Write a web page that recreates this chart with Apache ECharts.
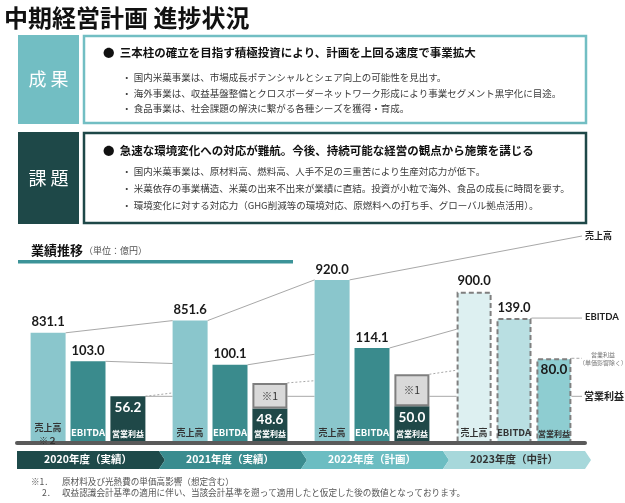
<!DOCTYPE html>
<html>
<head>
<meta charset="utf-8">
<script src="https://cdn.jsdelivr.net/npm/echarts@6/dist/echarts.min.js"></script>
<style>
  html, body { margin: 0; padding: 0; background: #fff; }
  #main { width: 625px; height: 503px; }
</style>
</head>
<body>
<div id="main"></div>
<script>
// 業績推移 (単位：億円)
const years = ['2020年度（実績）', '2021年度（実績）', '2022年度（計画）', '2023年度（中計）'];
const sales = [831.1, 851.6, 920.0, 900.0];
const ebitda = [103.0, 100.1, 114.1, 139.0];
const opIncome = [56.2, 48.6, 50.0, 80.0];
// ※1 boxes carry no figure in the source, size
const priceImpact = [null, 16, 20, null];
const salesNames = ['売上高\n※２', '売上高', '売上高', '売上高'];
const ebitdaNames = ['EBITDA', 'EBITDA', 'EBITDA', 'EBITDA'];
const opNames = ['営業利益', '営業利益', '営業利益', '営業利益'];
const planFlags = [false, false, false, true];

const CJK = '"Noto Sans CJK JP", sans-serif';
const NUM = 'Lato, "Noto Sans", sans-serif';

// each measure has its own (cut) scale like the original slide
const salesAxis = { min: 646, max: 987 };
const ebitdaAxis = { min: 35, max: 204 };
const opAxis = { min: 27, max: 154 };

const chart = echarts.init(document.getElementById('main'));

function barItems(values, plain, plan, planLabel) {
  return values.map(function (v, i) {
    if (!planFlags[i]) return { value: v, itemStyle: { color: plain } };
    const item = { value: v, itemStyle: { color: plan, borderColor: '#7f7f7f', borderWidth: 2, borderType: [5, 3] } };
    if (planLabel) item.label = planLabel;
    return item;
  });
}

function nameMarks(names, axisMin, colors, size) {
  return {
    symbol: 'rect',
    symbolSize: 1,
    silent: true,
    itemStyle: { color: 'rgba(0,0,0,0)' },
    label: {
      show: true, position: 'top', distance: 3,
      fontFamily: CJK, fontWeight: 'bold', fontSize: size, lineHeight: size + 4
    },
    data: names.map(function (n, i) {
      const lab = { formatter: n, color: colors[i] };
      if (n.indexOf('\n') >= 0) lab.offset = [0, 8];
      return { coord: [years[i], axisMin], label: lab };
    })
  };
}

const valueLabel = {
  show: true, position: 'top', distance: 4,
  fontFamily: NUM, fontWeight: 'bold', fontSize: 13, color: '#1a1a1a',
  formatter: function (p) { return p.value.toFixed(1); }
};

function txt(id, x, y, text, size, opts) {
  opts = opts || {};
  return {
    type: 'text', id: id, x: x, y: y, silent: true, z: 3,
    style: {
      text: text, fontSize: size, fontFamily: opts.family || CJK,
      fontWeight: opts.weight || 'normal', fill: opts.color || '#333',
      align: opts.align || 'left', verticalAlign: 'middle'
    }
  };
}

// slide frame: title, 成果 / 課題 boxes, section header, notes
const staticGraphics = [
  txt('title', 4, 18, '中期経営計画 進捗状況', 24, { weight: 'bold', color: '#111' }),

  { type: 'rect', id: 'seikaTag', shape: { x: 18, y: 35, width: 61, height: 89 }, style: { fill: '#72BEC3' } },
  txt('seikaTagT', 48.5, 79.5, '成 果', 18, { color: '#fff', align: 'center' }),
  { type: 'rect', id: 'seikaBox', shape: { x: 84, y: 36, width: 502, height: 87 }, style: { fill: 'none', stroke: '#72BEC3', lineWidth: 2.5 } },
  txt('seikaH', 103, 53, '●  三本柱の確立を目指す積極投資により、計画を上回る速度で事業拡大', 11.5, { weight: 'bold', color: '#111' }),
  txt('seika1', 122, 77, '・ 国内米菓事業は、市場成長ポテンシャルとシェア向上の可能性を見出す。', 9.5, { color: '#3a3a3a' }),
  txt('seika2', 122, 93, '・ 海外事業は、収益基盤整備とクロスボーダーネットワーク形成により事業セグメント黒字化に目途。', 9.5, { color: '#3a3a3a' }),
  txt('seika3', 122, 108, '・ 食品事業は、社会課題の解決に繋がる各種シーズを獲得・育成。', 9.5, { color: '#3a3a3a' }),

  { type: 'rect', id: 'kadaiTag', shape: { x: 18, y: 132, width: 61, height: 92 }, style: { fill: '#1E4848' } },
  txt('kadaiTagT', 48.5, 178, '課 題', 18, { color: '#fff', align: 'center' }),
  { type: 'rect', id: 'kadaiBox', shape: { x: 84, y: 133, width: 502, height: 90 }, style: { fill: 'none', stroke: '#1E4848', lineWidth: 2.5 } },
  txt('kadaiH', 103, 151, '●  急速な環境変化への対応が難航。今後、持続可能な経営の観点から施策を講じる', 11.5, { weight: 'bold', color: '#111' }),
  txt('kadai1', 122, 171, '・ 国内米菓事業は、原材料高、燃料高、人手不足の三重苦により生産対応力が低下。', 9.5, { color: '#3a3a3a' }),
  txt('kadai2', 122, 188, '・ 米菓依存の事業構造、米菓の出来不出来が業績に直結。投資が小粒で海外、食品の成長に時間を要す。', 9.5, { color: '#3a3a3a' }),
  txt('kadai3', 122, 205, '・ 環境変化に対する対応力（GHG削減等の環境対応、原燃料への打ち手、グローバル拠点活用）。', 9.5, { color: '#3a3a3a' }),

  txt('secT', 31, 250, '業績推移', 13, { weight: 'bold', color: '#111' }),
  txt('secU', 84, 251, '（単位：億円）', 9, { color: '#555' }),
  { type: 'rect', id: 'secLine', shape: { x: 18, y: 260, width: 275, height: 3.5 }, style: { fill: '#3C9398' } },

  txt('note1a', 31, 482, '※1．', 8.6, { color: '#555' }),
  txt('note1b', 62, 482, '原材料及び光熱費の単価高影響（想定含む）', 8.6, { color: '#555' }),
  txt('note2a', 42, 493, '2．', 8.6, { color: '#555' }),
  txt('note2b', 62, 493, '収益認識会計基準の適用に伴い、当該会計基準を遡って適用したと仮定した後の数値となっております。', 8.6, { color: '#555' })
];

const yearColors = ['#ffffff', '#ffffff', '#ffffff', '#333333'];

const option = {
  animation: false,
  backgroundColor: '#fff',
  grid: { left: 17, right: 40, top: 240, bottom: 60 },
  xAxis: {
    type: 'category',
    data: years,
    z: 5,
    axisLine: { onZero: false, lineStyle: { color: '#5a5a5a', width: 4 } },
    axisTick: { show: false },
    axisLabel: {
      margin: 11, fontFamily: CJK, fontWeight: 'bold', fontSize: 10.5,
      color: function (v, i) { return yearColors[i]; }
    }
  },
  yAxis: [
    { type: 'value', show: false, min: salesAxis.min, max: salesAxis.max, splitLine: { show: false } },
    { type: 'value', show: false, min: ebitdaAxis.min, max: ebitdaAxis.max, splitLine: { show: false } },
    { type: 'value', show: false, min: opAxis.min, max: opAxis.max, splitLine: { show: false } }
  ],
  graphic: { elements: staticGraphics },
  series: [
    {
      name: '売上高', type: 'bar', yAxisIndex: 0, barWidth: 35, barGap: '14%',
      data: barItems(sales, '#8AC6CC', '#DDF0F1'),
      label: valueLabel,
      markPoint: nameMarks(salesNames, salesAxis.min, ['#333', '#333', '#333', '#333'], 9)
    },
    {
      name: 'EBITDA', type: 'bar', yAxisIndex: 1, barWidth: 35, barGap: '14%',
      data: barItems(ebitda, '#3A8B8D', '#B9DFE2'),
      label: valueLabel,
      markPoint: nameMarks(ebitdaNames, ebitdaAxis.min, ['#fff', '#fff', '#fff', '#333'], 9.5)
    },
    {
      name: '営業利益', type: 'bar', yAxisIndex: 2, stack: 'op', barWidth: 35, barGap: '14%',
      data: barItems(opIncome, '#1F4848', '#8ECDD1', { color: '#1a1a1a' }),
      label: {
        show: true, position: 'insideTop', distance: 4,
        fontFamily: NUM, fontWeight: 'bold', fontSize: 13.5, color: '#fff',
        formatter: function (p) { return p.value.toFixed(1); }
      },
      markPoint: nameMarks(opNames, opAxis.min, ['#fff', '#fff', '#fff', '#333'], 8)
    },
    {
      name: '※1', type: 'bar', yAxisIndex: 2, stack: 'op', barWidth: 35, barGap: '14%',
      data: priceImpact,
      itemStyle: { color: '#D9D9D9', borderColor: '#7f7f7f', borderWidth: 2 },
      label: { show: true, position: 'inside', formatter: '※1', fontFamily: CJK, fontSize: 10.5, color: '#333' }
    }
  ]
};

chart.setOption(option);

// connectors and right-hand captions, placed from the laid-out bars
function barBox(seriesIndex, i) {
  const l = chart.getModel().getSeriesByIndex(seriesIndex).getData().getItemLayout(i);
  if (!l || isNaN(l.height)) return null;
  return { left: l.x, right: l.x + l.width, top: Math.min(l.y, l.y + l.height) };
}

const extra = [];
const edgeX = 582;
function seg(id, a, b, dash) {
  extra.push({
    type: 'line', id: id, z: 1, silent: true,
    shape: { x1: a[0], y1: a[1], x2: b[0], y2: b[1] },
    style: { stroke: '#a8a8a8', lineWidth: 1, lineDash: dash || null }
  });
}
function towards(a, b, x) {
  return [x, a[1] + (b[1] - a[1]) * (x - a[0]) / (b[0] - a[0])];
}

const S = years.map(function (_, i) { return barBox(0, i); });
const E = years.map(function (_, i) { return barBox(1, i); });
const O = years.map(function (_, i) { return barBox(2, i); });
const P = years.map(function (_, i) { return barBox(3, i); });
const opTop = O.map(function (o, i) { return P[i] ? P[i].top : o.top; });

// 売上高
for (let i = 0; i < 2; i++) seg('s' + i, [S[i].right, S[i].top], [S[i + 1].left, S[i + 1].top]);
const salesCap = 236;
seg('s2', [S[2].right, S[2].top], [edgeX, salesCap]);
// EBITDA
for (let i = 0; i < 3; i++) {
  const a = [E[i].right, E[i].top], b = [E[i + 1].left, E[i + 1].top];
  seg('e' + i, a, towards(a, b, S[i + 1].left));
}
seg('e3', [E[3].right, E[3].top], [edgeX, E[3].top]);
// 営業利益 (solid, flat) and excluding unit price impact (dotted)
for (let i = 0; i < 3; i++) {
  seg('o' + i, [O[i].right, O[0].top], [S[i + 1].left, O[0].top]);
  const a = [O[i].right, opTop[i]], b = [O[i + 1].left, opTop[i + 1]];
  seg('d' + i, a, towards(a, b, S[i + 1].left), [2, 2]);
}
seg('o3', [O[3].right, O[0].top], [edgeX, O[0].top]);
seg('d3', [O[3].right, opTop[3]], [edgeX, opTop[3]], [3, 2]);

extra.push(txt('capS', 585, salesCap, '売上高', 9, { weight: 'bold', color: '#222' }));
extra.push(txt('capE', 585, E[3].top - 1, 'EBITDA', 9.5, { weight: 'bold', color: '#222', family: NUM }));
extra.push(txt('capD1', 603, opTop[3] - 4, '営業利益', 6, { color: '#777', align: 'center' }));
extra.push(txt('capD2', 603, opTop[3] + 4, '（単価影響除く）', 6, { color: '#777', align: 'center' }));
extra.push(txt('capO', 584, O[0].top, '営業利益', 10, { weight: 'bold', color: '#222' }));

// year chevrons under the axis
const chevColors = ['#1E4A4A', '#3A8C8F', '#6CBDC2', '#A7D8DB'];
const cx = years.map(function (y) { return chart.convertToPixel({ xAxisIndex: 0 }, y); });
const band = cx[1] - cx[0];
const cTop = 451, cBot = 469, cMid = (cTop + cBot) / 2, tip = 6;
years.forEach(function (y, i) {
  const L = cx[i] - band / 2, R = cx[i] + band / 2;
  const pts = [[L, cTop], [R, cTop], [R + tip, cMid], [R, cBot], [L, cBot]];
  if (i > 0) pts.push([L + tip, cMid]);
  extra.push({ type: 'polygon', id: 'chev' + i, z: 1, silent: true, shape: { points: pts }, style: { fill: chevColors[i] } });
});

chart.setOption({ graphic: { elements: staticGraphics.concat(extra) } });
</script>
</body>
</html>
